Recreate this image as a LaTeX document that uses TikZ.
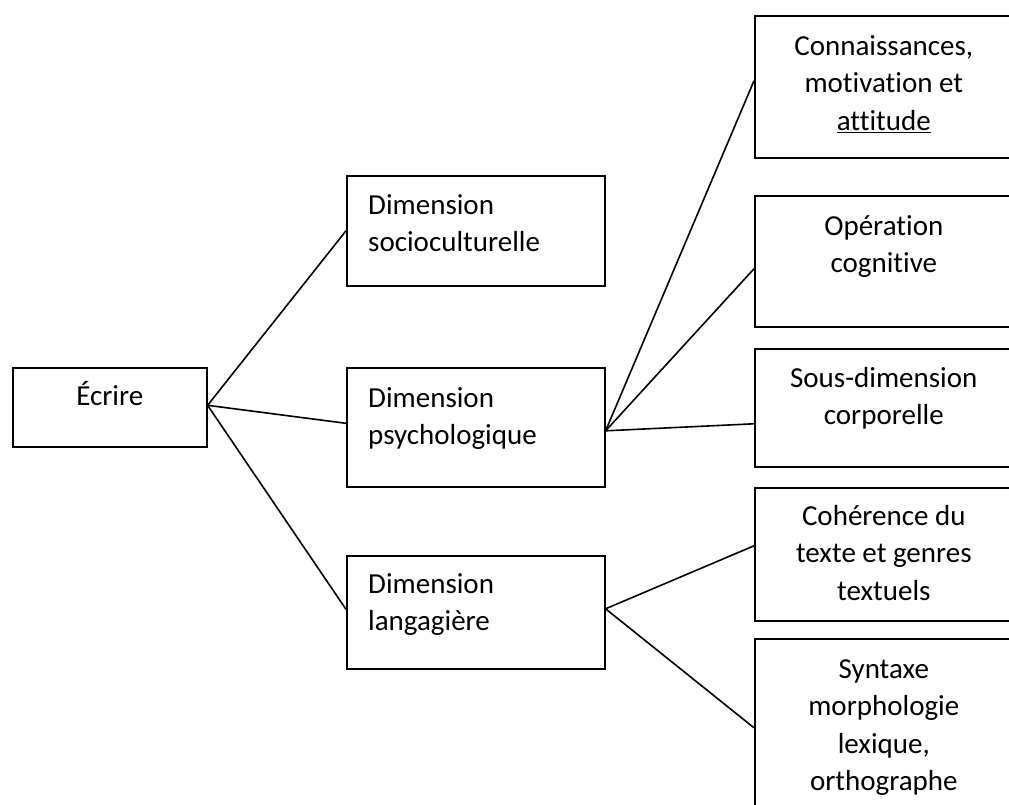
\documentclass[tikz,border=0pt]{standalone}
\usepackage{fontspec}
\setmainfont{Carlito}[Ligatures={NoCommon}]
\begin{document}
\begin{tikzpicture}[x=1pt,y=-1pt,
  box/.style={draw=black, line width=1.6pt, rectangle, inner sep=0pt, anchor=north west},
  txtl/.style={inner sep=0pt, anchor=north west, align=left, font=\fontsize{29}{37.5}\selectfont},
  txtc/.style={inner sep=0pt, anchor=north, align=center, font=\fontsize{29}{37.5}\selectfont},
  link/.style={draw=black, line width=1.6pt}]
\useasboundingbox (0,0) rectangle (1009,805);
\clip (0,0) rectangle (1009,805);
% boxes
\node[box, minimum width=194pt, minimum height=79pt] (ecr) at (12,367) {};
\node[box, minimum width=258pt, minimum height=110pt] (soc) at (346,175) {};
\node[box, minimum width=258pt, minimum height=119pt] (psy) at (346,367) {};
\node[box, minimum width=258pt, minimum height=113pt] (lan) at (346,555) {};
\node[box, minimum width=258pt, minimum height=142pt] (con) at (754,15) {};
\node[box, minimum width=258pt, minimum height=131pt] (ope) at (754,195) {};
\node[box, minimum width=258pt, minimum height=118pt] (sou) at (754,348) {};
\node[box, minimum width=258pt, minimum height=133pt] (coh) at (754,487) {};
\node[box, minimum width=258pt, minimum height=182pt] (syn) at (754,638) {};
% texts
\node[txtc] (tecr) at ([yshift=-11.75pt]ecr.north) {\strut Écrire};
\node[txtl] (tsoc) at ([xshift=22pt,yshift=-12.75pt]soc.north west) {\strut Dimension\\socioculturelle};
\node[txtl] (tpsy) at ([xshift=22pt,yshift=-13.75pt]psy.north west) {\strut Dimension\\psychologique};
\node[txtl] (tlan) at ([xshift=22pt,yshift=-11.75pt]lan.north west) {\strut Dimension\\langagière};
\node[txtc] (tcon) at ([yshift=-13.75pt]con.north) {\strut Connaissances,\\motivation et\\\underline{attitude}};
\node[txtc] (tope) at ([yshift=-13.75pt]ope.north) {\strut Opération\\cognitive};
\node[txtc] (tsou) at ([yshift=-12.75pt]sou.north) {\strut Sous-dimension\\corporelle};
\node[txtc] (tcoh) at ([yshift=-11.75pt]coh.north) {\strut Cohérence du\\texte et genres\\textuels};
\node[txtc] (tsyn) at ([yshift=-13.75pt]syn.north) {\strut Syntaxe\\morphologie\\lexique,\\orthographe};
% connectors
\draw[link] ([yshift=2pt]ecr.east) -- (soc.west);
\draw[link] ([yshift=2pt]ecr.east) -- ([yshift=4pt]psy.west);
\draw[link] ([yshift=2pt]ecr.east) -- ([yshift=3pt]lan.west);
\draw[link] ([yshift=-3.5pt]psy.east) -- ([yshift=6pt]con.west);
\draw[link] ([yshift=-3.5pt]psy.east) -- ([yshift=-7.5pt]ope.west);
\draw[link] ([yshift=-3.5pt]psy.east) -- ([yshift=-16pt]sou.west);
\draw[link] ([yshift=3.5pt]lan.east) -- ([yshift=8.5pt]coh.west);
\draw[link] ([yshift=3.5pt]lan.east) -- ([yshift=2pt]syn.west);
\end{tikzpicture}
\end{document}
